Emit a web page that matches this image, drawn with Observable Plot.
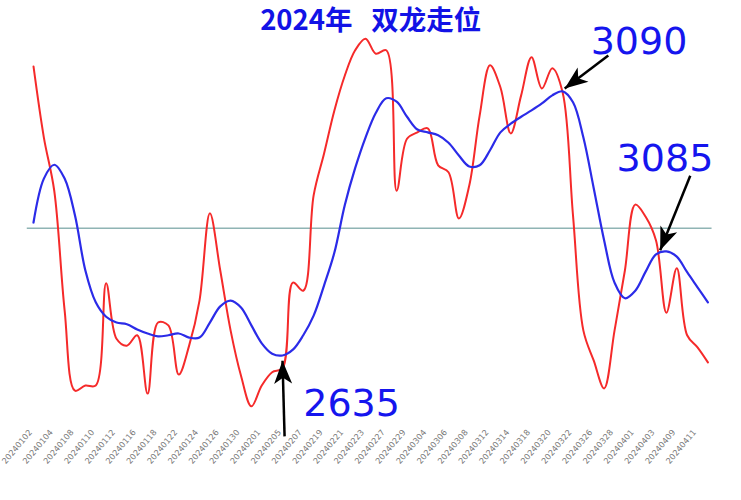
<!DOCTYPE html>
<html><head><meta charset="utf-8">
<script src="https://cdn.jsdelivr.net/npm/d3@7"></script>
<script src="https://cdn.jsdelivr.net/npm/@observablehq/plot@0.6"></script>
<style>body{margin:0;background:#fff}</style>
</head><body><div id="chart"></div>
<script>
const dates = ["20240102","20240103","20240104","20240105","20240108","20240109","20240110","20240111","20240112","20240115","20240116","20240117","20240118","20240119","20240122","20240123","20240124","20240125","20240126","20240129","20240130","20240131",
"20240201","20240202","20240205","20240206","20240207","20240208","20240219","20240220","20240221","20240222","20240223","20240226","20240227","20240228","20240229",
"20240301","20240304","20240305","20240306","20240307","20240308","20240311","20240312","20240313","20240314","20240315","20240318","20240319","20240320","20240321","20240322","20240325","20240326","20240327","20240328","20240329",
"20240401","20240402","20240403","20240408","20240409","20240410","20240411","20240412"];
const redLine = [3135,3012,2920,2713,2574,2583,2583,2760,2664,2652,2670,2569,2692,2687,2602,2652,2730,2881,2782,2678,2600,2547,
2583,2606,2613,2761,2747,2912,2984,3059,3119,3163,3183,3157,3163,2920,3010,
3021,3028,2964,2952,2872,2929,3050,3137,3099,3019,3085,3151,3097,3132,3090,2877,2678,2626,2578,2678,2782,
2896,2875,2834,2709,2786,2670,2649,2623];
const blueLine = [2865,2941,2965,2941,2877,2782,2727,2702,2692,2689,2680,2673,2668,2670,2673,2666,2666,2692,2720,2730,2718,2687,
2656,2638,2635,2645,2670,2704,2756,2813,2895,2959,3012,3055,3080,3074,3048,
3026,3021,3016,3003,2981,2962,2964,2990,3021,3036,3048,3059,3071,3085,3092,3073,3012,2924,2834,2761,2734,
2747,2780,2810,2815,2806,2779,2753,2727];
const baseLevel = 2855;
const tickIndex = dates.map((d, i) => i).filter(i => i % 2 === 0);
const annoLabels = ["2635", "3090", "3085"];
const annoTipX = [24, 51.2, 60.4];
const annoTipY = [2626, 3097, 2817];
const annoTailX = [24.2, 55.4, 63.3];
const annoTailY = [2495, 3154, 2946];
const annoTextX = [26.0, 53.7, 56.2];
const annoTextY = [2531, 3157, 2955];

const W = 741, H = 500, mL = 33, mR = 33.6, mT = 28.4, mB = 67;
const xDomain = [0, 65], yDomain = [2500, 3200];
const xs = d3.scaleLinear(xDomain, [mL, W - mR]);
const ys = d3.scaleLinear(yDomain, [H - mB, mT]);

const rows = dates.map((d, i) => ({i, date: d, red: redLine[i], blue: blueLine[i]}));
const annos = annoLabels.map((t, k) => {
  const dx = xs(annoTipX[k]) - xs(annoTailX[k]);
  const dy = ys(annoTipY[k]) - ys(annoTailY[k]);
  return {t, tx: annoTipX[k], ty: annoTipY[k], sx: annoTailX[k], sy: annoTailY[k], lx: annoTextX[k], ly: annoTextY[k],
    angle: Math.atan2(dx, -dy) * 180 / Math.PI};
});
const headSymbol = {draw(context) {
  context.moveTo(0, 0);
  context.lineTo(-9, 23);
  context.lineTo(0, 17);
  context.lineTo(9, 23);
  context.closePath();
}};

const chart = Plot.plot({
  width: W, height: H,
  marginLeft: mL, marginRight: mR, marginTop: mT, marginBottom: mB,
  x: {domain: xDomain, axis: null},
  y: {domain: yDomain, axis: null},
  style: {background: "#fff", overflow: "visible"},
  marks: [
    Plot.ruleY([baseLevel], {x1: -0.6, x2: 65.4, stroke: "#8fb4b4", strokeWidth: 1.5}),
    Plot.line(rows, {x: "i", y: "red", stroke: "#f52a2a", strokeWidth: 2, curve: "catmull-rom"}),
    Plot.line(rows, {x: "i", y: "blue", stroke: "#2b2be8", strokeWidth: 2.2, curve: "catmull-rom"}),
    Plot.text(tickIndex, {x: d => d, frameAnchor: "bottom", text: d => dates[d], rotate: -50, textAnchor: "end", dy: -1, dx: -1, fontSize: 8.2, fill: "#777", fontFamily: "DejaVu Sans"}),
    Plot.link(annos, {x1: "sx", y1: "sy", x2: "tx", y2: "ty", stroke: "#000", strokeWidth: 2.5}),
    Plot.dot(annos, {x: "tx", y: "ty", symbol: headSymbol, rotate: "angle", fill: "#000", stroke: "none", r: 10}),
    Plot.text(annos, {x: "lx", y: "ly", text: "t", textAnchor: "start", lineAnchor: "bottom", fontSize: 38, fill: "#1515ee", fontFamily: "DejaVu Sans"}),
    Plot.text(["2024年\u00a0\u00a0\u00a0双龙走位"], {frameAnchor: "top", lineAnchor: "bottom", dy: 1, fontSize: 27.5, fontWeight: "bold", fill: "#1212e6", fontFamily: "Noto Sans CJK SC"})
  ]
});
document.getElementById("chart").appendChild(chart);
</script>
</body></html>
